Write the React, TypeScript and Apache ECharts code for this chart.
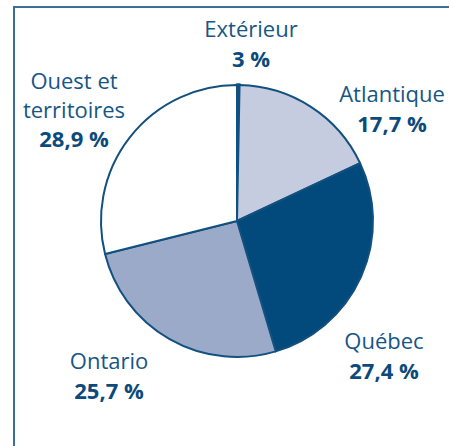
import React, { useEffect, useRef } from "react";
import * as echarts from "echarts";

// Regions, clockwise from the top
const regions = ["Extérieur", "Atlantique", "Québec", "Ontario", "Ouest et\nterritoires"];
// Shares drawn (Extérieur is drawn as a very thin sliver: 0.3 %)
const shares = [0.3, 17.7, 27.4, 25.7, 28.9];
// Percent labels as printed
const shareLabels = ["3 %", "17,7 %", "27,4 %", "25,7 %", "28,9 %"];

// Layout (not data)
const fills = ["#014a7b", "#c5cce0", "#014a7b", "#9caaca", "#ffffff"];
const labelCenters: [number, number][] = [
  [251, 43],
  [392, 108],
  [384, 355],
  [109, 375],
  [74, 109],
];

export default function App() {
  const ref = useRef<HTMLDivElement>(null);
  useEffect(() => {
    if (!ref.current) return;
    const chart = echarts.init(ref.current, undefined, { renderer: "svg" });
    const lineColor = "#3b6f98";
    chart.setOption({
      animation: false,
      backgroundColor: "#ffffff",
      graphic: [
        {
          type: "line",
          shape: { x1: 13, y1: 7, x2: 449, y2: 7 },
          style: { stroke: lineColor, lineWidth: 2 },
          silent: true,
        },
        {
          type: "line",
          shape: { x1: 14, y1: 6, x2: 14, y2: 446 },
          style: { stroke: lineColor, lineWidth: 2 },
          silent: true,
        },
      ],
      series: [
        {
          type: "pie",
          center: [237, 221],
          radius: 136,
          startAngle: 90,
          clockwise: true,
          avoidLabelOverlap: false,
          itemStyle: { borderColor: "#12507f", borderWidth: 2 },
          labelLine: { show: false },
          label: {
            show: true,
            position: "outside",
            formatter: (p: any) => `{n|${p.name.split("\n").join("}\n{n|")}}\n{p|${shareLabels[p.dataIndex]}}`,
            rich: {
              n: {
                fontFamily: "Open Sans",
                fontSize: 22,
                color: "#165685",
                lineHeight: 29,
                align: "center",
              },
              p: {
                fontFamily: "Open Sans",
                fontSize: 22,
                fontWeight: "bold",
                color: "#0b4a7a",
                lineHeight: 30,
                align: "center",
              },
            },
          },
          labelLayout: (params: any) => {
            const c = labelCenters[params.dataIndex];
            return { x: c[0], y: c[1], align: "center", verticalAlign: "middle", hideOverlap: false };
          },
          data: regions.map((name, i) => ({
            name,
            value: shares[i],
            itemStyle: i === 0 ? { color: fills[i], borderWidth: 3.5 } : { color: fills[i] },
          })),
        },
      ],
    });
    return () => chart.dispose();
  }, []);
  return (
    <div
      ref={ref}
      style={{ position: "fixed", left: 0, top: 0, width: 449, height: 446 }}
    />
  );
}
